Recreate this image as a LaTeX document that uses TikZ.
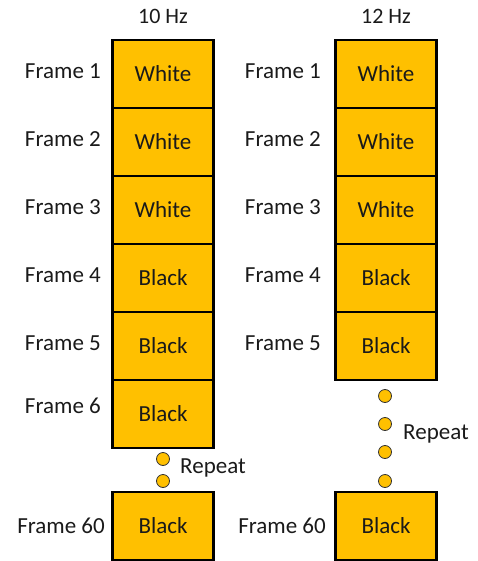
\documentclass[tikz,border=0pt]{standalone}
\usepackage{fontspec}
\setmainfont{Carlito}
\definecolor{gold}{HTML}{FFC000}
\definecolor{txt}{HTML}{1A1A1A}
\begin{document}
\begin{tikzpicture}[x=1pt,y=-1pt,
  framebox/.style={draw=black,line width=2.6pt,fill=gold,minimum width=101pt,minimum height=68pt,inner sep=0pt,text=txt,font=\fontsize{23}{27}\selectfont},
  lbl/.style={anchor=east,inner sep=0pt,text=txt,font=\fontsize{23}{27}\selectfont},
  dotc/.style={circle,draw=black!80,line width=0.8pt,fill=gold,minimum size=13pt,inner sep=0pt},
  hdr/.style={inner sep=0pt,text=txt,font=\fontsize{22}{26}\selectfont}]
\useasboundingbox (0,0) rectangle (478,561);
% left column
\node[hdr] (h1) at (163,16) {10 Hz};
\node[framebox] (a1) at (163,74) {White};
\node[framebox] (a2) at (163,142) {White};
\node[framebox] (a3) at (163,210) {White};
\node[framebox] (a4) at (163,278) {Black};
\node[framebox] (a5) at (163,346) {Black};
\node[framebox] (a6) at (163,414) {Black};
\node[framebox] (a60) at (163,526) {Black};
\node[lbl] (la1) at (101,71) {Frame 1};
\node[lbl] (la2) at (101,139) {Frame 2};
\node[lbl] (la3) at (101,207) {Frame 3};
\node[lbl] (la4) at (101,275) {Frame 4};
\node[lbl] (la5) at (101,343) {Frame 5};
\node[lbl] (la6) at (101,406) {Frame 6};
\node[lbl] (la60) at (105,526) {Frame 60};
\node[dotc] (ad1) at (163,459) {};
\node[dotc] (ad2) at (163,481) {};
\node[lbl,anchor=west] (ar) at (180,468) {Repeat};
% right column
\node[hdr] (h2) at (386,16) {12 Hz};
\node[framebox] (b1) at (386,74) {White};
\node[framebox] (b2) at (386,142) {White};
\node[framebox] (b3) at (386,210) {White};
\node[framebox] (b4) at (386,278) {Black};
\node[framebox] (b5) at (386,346) {Black};
\node[framebox] (b60) at (386,526) {Black};
\node[lbl] (lb1) at (321,71) {Frame 1};
\node[lbl] (lb2) at (321,139) {Frame 2};
\node[lbl] (lb3) at (321,207) {Frame 3};
\node[lbl] (lb4) at (321,275) {Frame 4};
\node[lbl] (lb5) at (321,343) {Frame 5};
\node[lbl] (lb60) at (326,526) {Frame 60};
\node[dotc] (bd1) at (385,396) {};
\node[dotc] (bd2) at (385,424) {};
\node[dotc] (bd3) at (385,452) {};
\node[dotc] (bd4) at (385,481) {};
\node[lbl,anchor=west] (br) at (403,434) {Repeat};
\end{tikzpicture}
\end{document}
